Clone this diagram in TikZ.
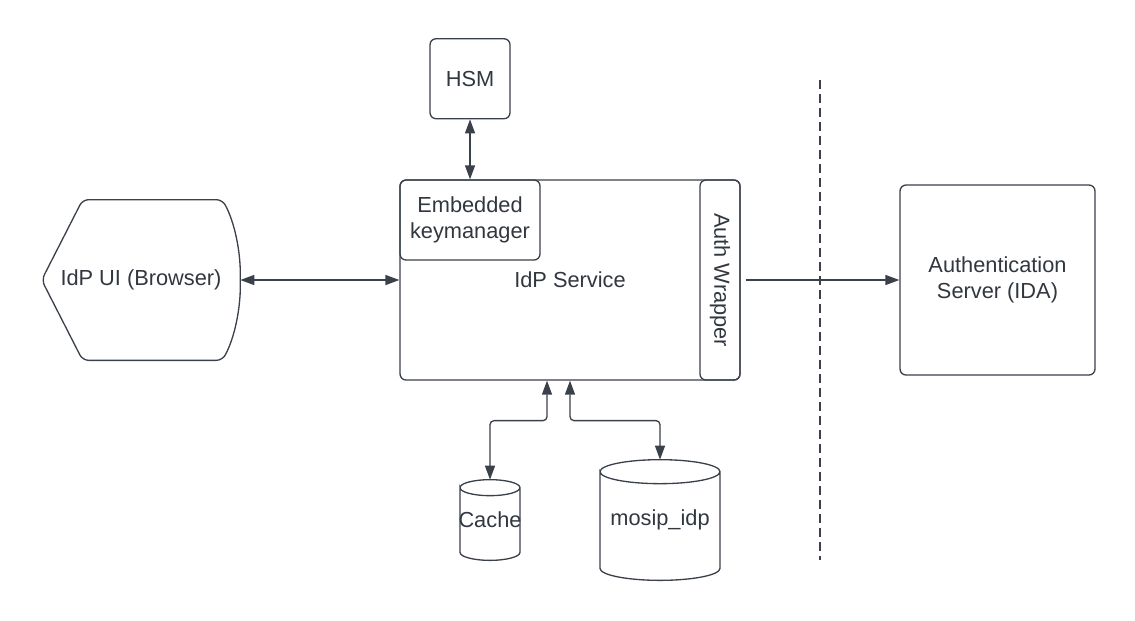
\documentclass[tikz,border=0pt]{standalone}
\usepackage{fontspec}
\setmainfont{Liberation Sans}
\usepackage{tikz}
\usetikzlibrary{arrows.meta, positioning}
\definecolor{colorLine}{HTML}{3A414A}
\colorlet{colorText}{colorLine!85!black}
\tikzset{
  box/.style={draw=colorLine, rounded corners=0.12cm, line width=0.75pt, text=colorText, align=center, inner sep=0pt},
  drum/.style={inner sep=0pt, text=colorText},
  link/.style={draw=colorLine, line width=0.75pt}
}
\begin{document}
\begin{tikzpicture}[x=0.02cm, y=-0.02cm, >={Triangle[length=0.28cm, width=0.2cm]}, every node/.style={font=\fontsize{12.4}{14.6}\selectfont}]
\useasboundingbox (0,0) rectangle (1135,620);
\node[box, minimum width=6.8cm, minimum height=4cm] (idp) at (570,280) {IdP Service};
\node[box, anchor=north west, minimum width=2.8cm, minimum height=1.6cm] (km) at (idp.north west) {Embedded\\keymanager};
\node[box, rotate=-90, minimum width=4cm, minimum height=0.8cm] (aw) at (720,280) {Auth Wrapper};
\node[box, above=1.2cm of km, minimum size=1.6cm] (hsm) {HSM};
\node[box, minimum width=3.9cm, minimum height=3.8cm] (ida) at (997.5,280) {Authentication\\Server (IDA)};
\node[minimum width=3.96cm, minimum height=3.2cm, inner sep=0pt, text=colorText] (ui) at (141,280) {IdP UI (Browser)};
\draw[link, rounded corners=0.12cm] (ui.west) -- ([xshift=0.82cm]ui.north west) -- ([xshift=-0.36cm]ui.north east)
  .. controls ([xshift=-0.12cm, yshift=-0.44cm]ui.north east) and ([yshift=0.6cm]ui.east) .. (ui.east)
  .. controls ([yshift=-0.6cm]ui.east) and ([xshift=-0.12cm, yshift=0.44cm]ui.south east) .. ([xshift=-0.36cm]ui.south east)
  -- ([xshift=0.82cm]ui.south west) -- cycle;
\node[drum, minimum width=1.2cm, minimum height=1.6cm] (cache) at (490,520) {Cache};
\node[drum, minimum width=2.4cm, minimum height=2.4cm] (db) at (660,520) {mosip\_idp};
\draw[link] ([xshift=-0.6cm, yshift=-0.16cm]cache.north) arc[start angle=180, end angle=-180, x radius=0.6cm, y radius=0.16cm]
  -- ([xshift=-0.6cm, yshift=0.16cm]cache.south) arc[start angle=180, end angle=360, x radius=0.6cm, y radius=0.16cm]
  -- ([xshift=0.6cm, yshift=-0.16cm]cache.north);
\draw[link] ([xshift=-1.2cm, yshift=-0.24cm]db.north) arc[start angle=180, end angle=-180, x radius=1.2cm, y radius=0.24cm]
  -- ([xshift=-1.2cm, yshift=0.24cm]db.south) arc[start angle=180, end angle=360, x radius=1.2cm, y radius=0.24cm]
  -- ([xshift=1.2cm, yshift=-0.24cm]db.north);
\coordinate (split top) at (820,80);
\coordinate (split bottom) at (820,560);
\draw[link, <->] (ui) -- (idp);
\draw[link, <->] (hsm) -- (km);
\draw[link, ->, shorten <=0.1cm] (aw) -- (ida);
\draw[link, <->, rounded corners=0.08cm] ([xshift=-0.46cm]idp.south) -- ++(0,40) -| (cache.north);
\draw[link, <->, rounded corners=0.08cm] (idp.south) -- ++(0,40) -| (db.north);
\draw[link, dash pattern=on 0.18cm off 0.1cm] (split top) -- (split bottom);
\end{tikzpicture}
\end{document}
